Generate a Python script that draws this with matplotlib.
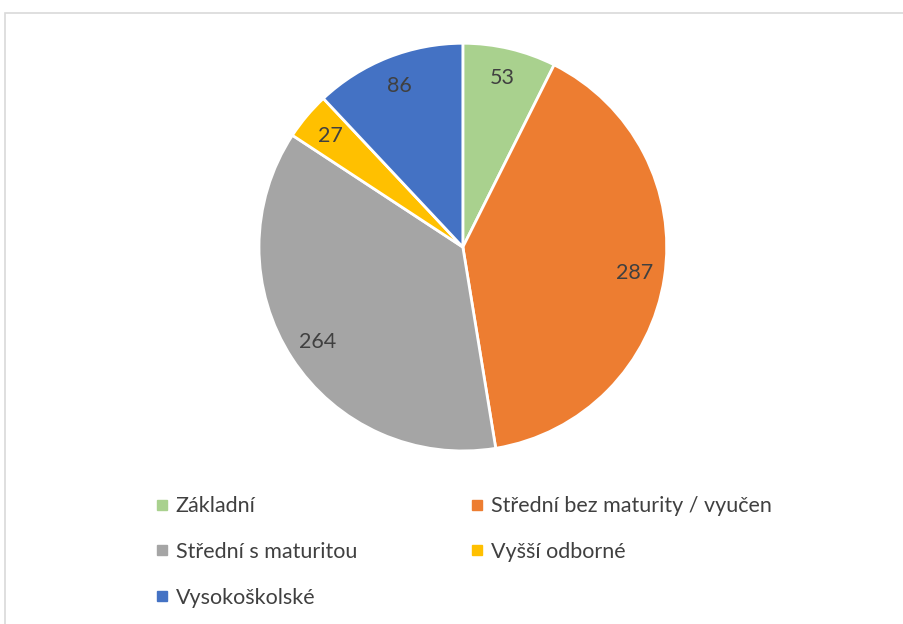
import matplotlib.pyplot as plt
from matplotlib.lines import Line2D
from matplotlib.patches import Rectangle

plt.rcParams['font.family'] = ['Lato', 'DejaVu Sans']

categories = ['Základní', 'Střední bez maturity / vyučen', 'Střední s maturitou',
              'Vyšší odborné', 'Vysokoškolské']
values = [53, 287, 264, 27, 86]
colors = ['#A9D18E', '#ED7D31', '#A5A5A5', '#FFC000', '#4472C4']

fig = plt.figure(figsize=(9.04, 6.24), dpi=100)

# chart frame (light gray, runs off the right/bottom edges)
fig.patches.append(Rectangle((5 / 904, -0.01), 1.0, 1 - 13 / 624 + 0.01,
                             transform=fig.transFigure, fill=False,
                             edgecolor='#D9D9D9', lw=1.2))

ax = fig.add_axes([0.2865, 0.277, 0.451, 0.654])
wedges, texts = ax.pie(values, colors=colors, startangle=90, counterclock=False,
                       labels=[str(v) for v in values], labeldistance=0.85,
                       wedgeprops=dict(edgecolor='white', linewidth=2),
                       textprops=dict(color='#404040', fontsize=15.5))
for t in texts:
    t.set_horizontalalignment('center')
    t.set_verticalalignment('center')
ax.set_xlim(-1, 1)
ax.set_ylim(-1, 1)
ax.set_aspect('equal')

# legend is filled row by row, like Excel
handles = [Line2D([], [], marker='s', linestyle='none', markersize=7,
                  markerfacecolor=c, markeredgecolor=c) for c in colors]
order = [0, 2, 4, 1, 3]
fig.legend([handles[i] for i in order], [categories[i] for i in order],
           loc='upper left', bbox_to_anchor=(136 / 904, 1 - 477 / 624),
           ncol=2, frameon=False, fontsize=15.5, labelcolor='#404040',
           handlelength=0.6, handletextpad=0.35, columnspacing=5.25, labelspacing=1.19)

fig.savefig('out.png', dpi=100)
